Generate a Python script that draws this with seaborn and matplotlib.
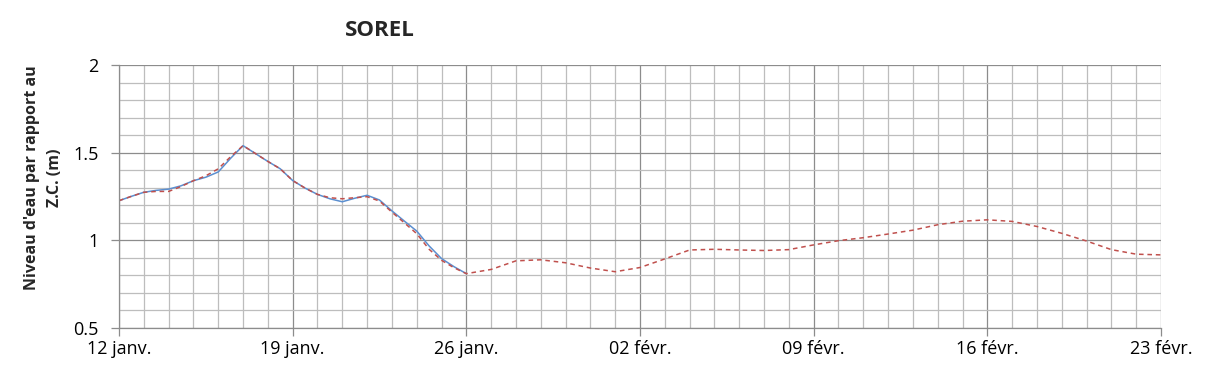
import matplotlib
matplotlib.use("Agg")
import matplotlib.pyplot as plt
import matplotlib.dates as mdates
import seaborn as sns
import pandas as pd
import numpy as np

sns.set_theme(style="white")
plt.rcParams['font.family'] = ['Open Sans', 'DejaVu Sans']

# observed water level (blue), 12 janv -> 26 janv, every 12 h
obs_dates = pd.date_range("2015-01-12", "2015-01-26", freq="12h")
obs_level = [1.226, 1.251, 1.274, 1.285, 1.292, 1.311, 1.34, 1.36, 1.39, 1.468,
             1.54, 1.495, 1.45, 1.408, 1.341, 1.298, 1.262, 1.237, 1.22, 1.24,
             1.257, 1.23, 1.168, 1.11, 1.053, 0.968, 0.896, 0.85, 0.81]

# forecast (red dashed): every 12 h until 26 janv, then daily to 23 févr
fc_dates = pd.date_range("2015-01-12", "2015-01-26", freq="12h").append(
    pd.date_range("2015-01-27", "2015-02-23", freq="D"))
fc_level = [1.226, 1.251, 1.274, 1.279, 1.279, 1.307, 1.34, 1.368, 1.408, 1.477,
            1.54, 1.495, 1.45, 1.408, 1.341, 1.298, 1.262, 1.243, 1.237, 1.243,
            1.249, 1.224, 1.161, 1.10, 1.038, 0.949, 0.886, 0.844, 0.81,
            0.834, 0.883, 0.889, 0.872, 0.842, 0.821, 0.845, 0.894,
            0.945, 0.949, 0.945, 0.942, 0.947, 0.974, 0.998, 1.015,
            1.036, 1.058, 1.089, 1.109, 1.117, 1.108, 1.079, 1.04,
            0.996, 0.947, 0.921, 0.917]

obs = pd.DataFrame({"date": obs_dates, "level": obs_level})
fc = pd.DataFrame({"date": fc_dates, "level": fc_level})

fig = plt.figure(figsize=(12.09, 3.78), dpi=100)
ax = fig.add_axes([119 / 1209, 1 - 328 / 378, (1161 - 119) / 1209, (328 - 65) / 378])

sns.lineplot(data=obs, x="date", y="level", ax=ax, color="#5b8fd0", linewidth=1.1)
sns.lineplot(data=fc, x="date", y="level", ax=ax, color="#c0504d", linewidth=1.1,
             linestyle=(0, (3, 2.5)))

ax.set_xlim(fc_dates[0], fc_dates[-1])
ax.set_ylim(0.5, 2.0)

ax.xaxis.set_minor_locator(mdates.DayLocator())
major_days = pd.date_range("2015-01-12", "2015-02-23", freq="7D")
ax.set_xticks(major_days)
mois = {1: "janv.", 2: "févr."}
ax.set_xticklabels([f"{d.day:02d} {mois[d.month]}" for d in major_days], fontsize=13)

ax.set_yticks([0.5, 1.0, 1.5, 2.0])
ax.set_yticklabels(["0.5", "1", "1.5", "2"], fontsize=13)
ax.set_yticks(np.arange(0.5, 2.01, 0.1), minor=True)

ax.grid(which="minor", color="#bdbdbd", linewidth=0.9)
ax.grid(which="major", color="#8c8c8c", linewidth=0.9)
ax.set_axisbelow(True)

for side in ["top", "right"]:
    ax.spines[side].set_visible(False)
for side in ["left", "bottom"]:
    ax.spines[side].set_color("#8c8c8c")
    ax.spines[side].set_linewidth(0.9)

ax.tick_params(axis="both", which="major", length=5.5, color="#8c8c8c", width=0.9,
               direction="out", left=True, bottom=True, labelcolor="#000000")
ax.tick_params(axis="y", which="major", pad=9)
ax.tick_params(axis="x", which="major", pad=3)
ax.tick_params(axis="both", which="minor", length=0)

ax.set_xlabel("")
ax.set_ylabel("Niveau d'eau par rapport au\nZ.C. (m)", fontsize=11.5, fontweight="bold",
              linespacing=1.55)
ax.yaxis.set_label_coords(-0.054, 0.57)

fig.text(380 / 1209, 1 - 30 / 378, "SOREL", fontsize=16, fontweight="bold",
         ha="center", va="center")

fig.savefig("out.png", dpi=100)
